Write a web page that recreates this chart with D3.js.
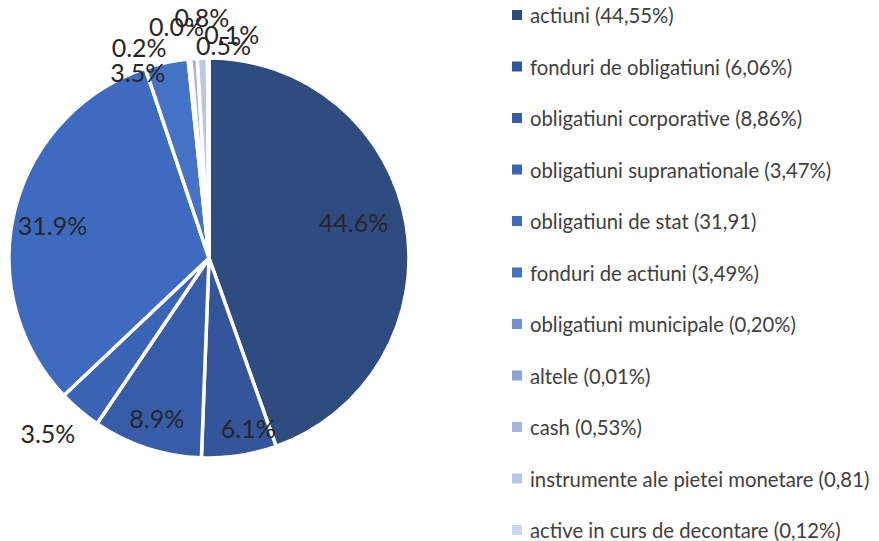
<!DOCTYPE html>
<html>
<head>
<meta charset="utf-8">
<script src="https://cdn.jsdelivr.net/npm/d3@7"></script>
<style>
  html, body { margin: 0; padding: 0; background: #ffffff; }
  svg { display: block; }
</style>
</head>
<body>
<svg id="chart" width="879" height="541"></svg>
<script>
// Portfolio structure (% of total assets)
const categories = [
  "actiuni",
  "fonduri de obligatiuni",
  "obligatiuni corporative",
  "obligatiuni supranationale",
  "obligatiuni de stat",
  "fonduri de actiuni",
  "obligatiuni municipale",
  "altele",
  "cash",
  "instrumente ale pietei monetare",
  "active in curs de decontare"
];
const values = [44.55, 6.06, 8.86, 3.47, 31.91, 3.49, 0.20, 0.01, 0.53, 0.81, 0.12];
const legendLabels = [
  "actiuni (44,55%)",
  "fonduri de obligatiuni (6,06%)",
  "obligatiuni corporative (8,86%)",
  "obligatiuni supranationale (3,47%)",
  "obligatiuni de stat (31,91)",
  "fonduri de actiuni (3,49%)",
  "obligatiuni municipale (0,20%)",
  "altele (0,01%)",
  "cash (0,53%)",
  "instrumente ale pietei monetare (0,81)",
  "active in curs de decontare (0,12%)"
];

// Monochromatic blue palette, darkest to lightest
const colors = [
  "#2F4C80", "#33559A", "#375DA8", "#3A64B5", "#3E6BBF", "#4472C4",
  "#7491CF", "#8EA4D6", "#A6B6DE", "#BAC6E6", "#CFD7EE"
];

// Data-label placement: radius factor and angular shift (deg) from slice middle
const labelPlacement = [
  [0.745, -4.2], [0.87, -4.3], [0.84, 0], [1.19, 2.3], [0.80, -2],
  [0.995, -8.7], [1.11, -12.7], [1.17, -2.7], [1.07, 8.2], [1.205, 0.2], [1.126, 6.0]
];

const svg = d3.select("#chart");
const cx = 209, cy = 258, R = 200;

const pie = d3.pie().sort(null).value(d => d)(values);
const arc = d3.arc().innerRadius(0).outerRadius(R);
const color = d3.scaleOrdinal().domain(categories).range(colors);

const g = svg.append("g").attr("transform", `translate(${cx},${cy})`);

g.selectAll("path.slice")
  .data(pie)
  .join("path")
  .attr("class", "slice")
  .attr("d", arc)
  .attr("fill", (d, i) => color(categories[i]))
  .attr("stroke", "#ffffff")
  .attr("stroke-width", 3.5)
  .attr("stroke-linejoin", "round");

// one decimal, rounding half up
const fmt = v => d3.format(".1f")(Math.round(v * 10 + 1e-7) / 10) + "%";
g.selectAll("text.lbl")
  .data(pie)
  .join("text")
  .attr("class", "lbl")
  .each(function(d, i) {
    const [rf, shift] = labelPlacement[i];
    const a = (d.startAngle + d.endAngle) / 2 + shift * Math.PI / 180;
    const r = R * rf;
    d3.select(this)
      .attr("x", r * Math.sin(a))
      .attr("y", -r * Math.cos(a));
  })
  .attr("text-anchor", "middle")
  .attr("dominant-baseline", "central")
  .attr("font-family", "Lato, 'Open Sans', sans-serif")
  .attr("font-size", 25)
  .attr("fill", "#262626")
  .text(d => fmt(d.value));

// Legend
const legendY = d3.scalePoint().domain(categories).range([15, 530]);
const legend = svg.append("g");
const items = legend.selectAll("g.item")
  .data(categories)
  .join("g")
  .attr("class", "item")
  .attr("transform", d => `translate(512,${legendY(d)})`);

items.append("rect")
  .attr("x", 0).attr("y", -5)
  .attr("width", 10).attr("height", 10)
  .attr("fill", d => color(d));

items.append("text")
  .attr("x", 18)
  .attr("y", 0)
  .attr("dominant-baseline", "central")
  .attr("font-family", "Lato, 'Open Sans', sans-serif")
  .attr("font-size", 20.3)
  .attr("fill", "#404040")
  .text((d, i) => legendLabels[i]);
</script>
</body>
</html>
